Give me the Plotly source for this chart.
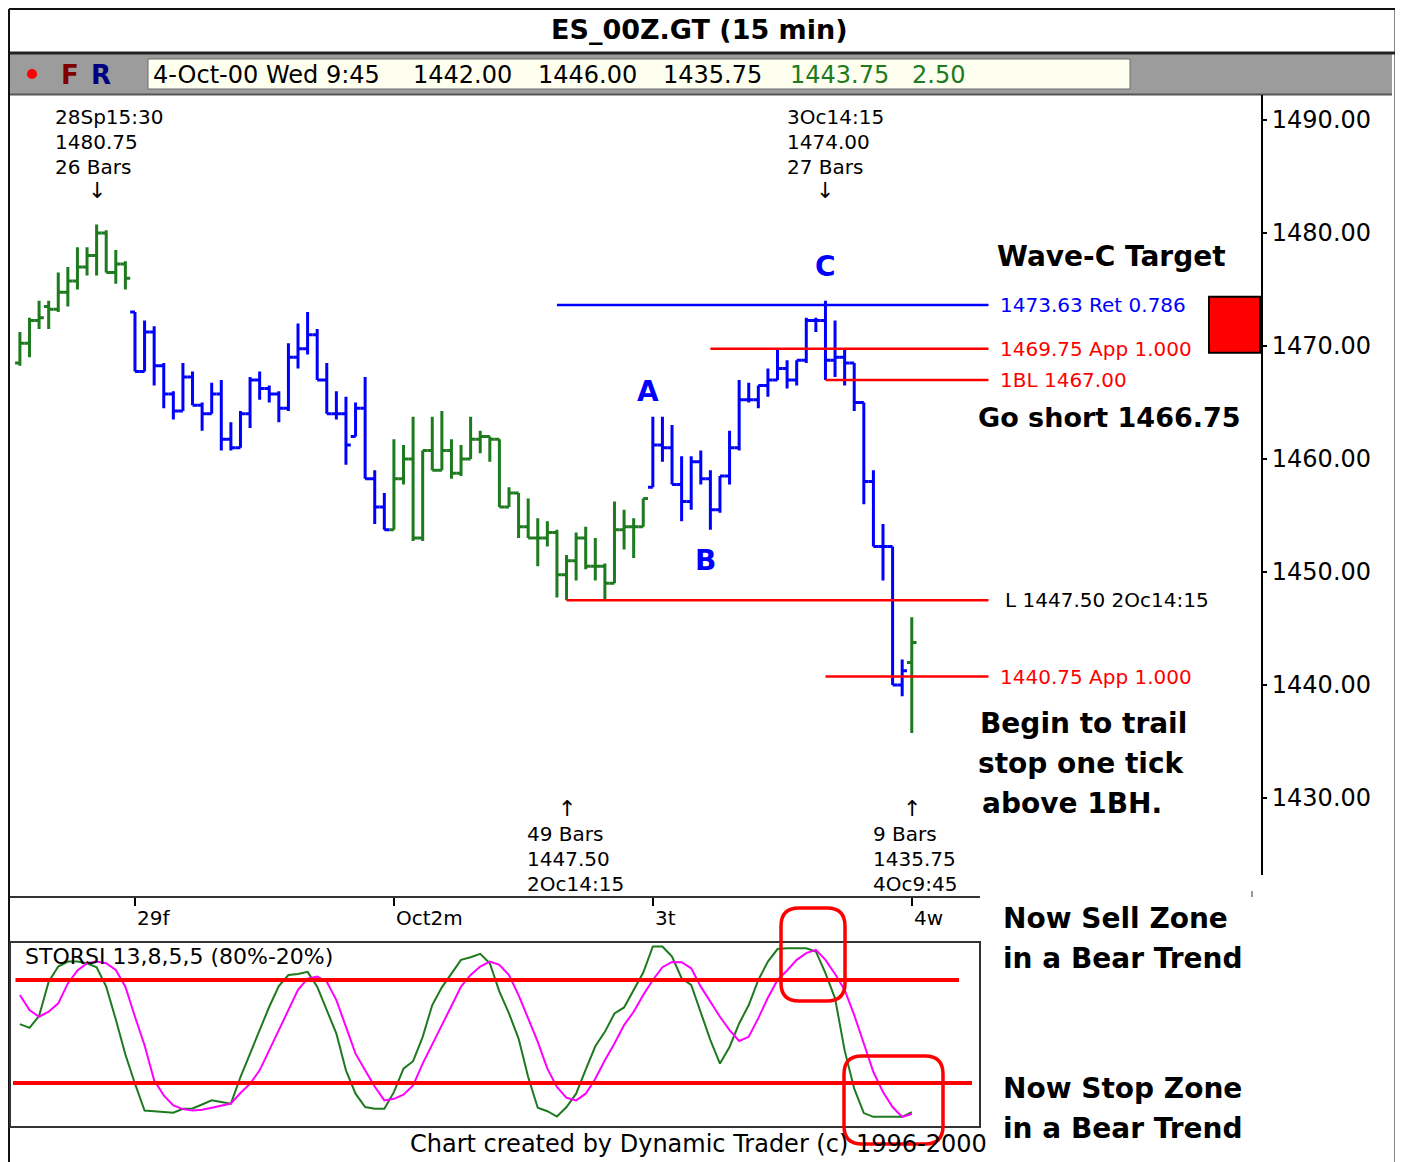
import plotly.graph_objects as go

W, H = 1403, 1162
OFF = 8                     # page body margin offset
FW, FH = W - OFF, H - OFF   # figure size
FONT = "DejaVu Sans"

# ---------------- data ----------------
session_labels = ["28Sp", "29f", "Oct2m", "3t", "4w"]
session_start = [0, 12, 39, 66, 93]          # first bar index of each session
session_color = ["#1e7a1e", "#0000ff", "#1e7a1e", "#0000ff", "#1e7a1e"]

opens = [1468.5, 1470.25, 1472.25, 1473.5, 1473.25, 1474.75, 1475.75, 1477.0, 1478.0, 1480.0, 1476.5, 1477.25,
         1473.0, 1467.75, 1471.25, 1468.25, 1465.75, 1464.25, 1467.25, 1464.75, 1464.0, 1465.75, 1461.75, 1461.0,
         1464.0, 1467.0, 1466.25, 1465.75, 1464.5, 1469.0, 1469.75, 1471.0, 1467.0, 1464.0, 1464.0, 1462.0,
         1464.5, 1458.25, 1455.75,
         1453.75, 1458.25, 1460.0, 1453.0, 1460.75, 1459.0, 1460.75, 1458.75, 1460.0, 1461.75, 1462.0, 1461.75,
         1455.75, 1457.0, 1454.0, 1453.0, 1453.0, 1453.5, 1449.75, 1451.0, 1453.0, 1450.5, 1450.5, 1449.0,
         1453.75, 1454.0, 1454.0,
         1457.5, 1461.25, 1461.0, 1457.75, 1456.25, 1459.75, 1458.25, 1455.5, 1458.5, 1461.0, 1465.25, 1465.25,
         1466.5, 1467.0, 1468.0, 1467.0, 1468.75, 1472.25, 1472.25, 1468.75, 1469.0, 1468.5, 1465.0, 1458.0,
         1452.25, 1452.25, 1440.0,
         1442.0]
highs = [1471.25, 1472.5, 1474.0, 1474.0, 1476.5, 1477.0, 1478.75, 1478.75, 1480.75, 1480.25, 1478.5, 1477.5,
         1473.0, 1472.25, 1471.75, 1468.5, 1466.0, 1468.5, 1467.75, 1465.0, 1466.75, 1467.0, 1463.25, 1464.25,
         1467.25, 1467.75, 1466.5, 1466.0, 1470.25, 1472.0, 1473.0, 1471.5, 1468.5, 1466.0, 1465.5, 1465.0,
         1467.25, 1459.0, 1457.0,
         1461.75, 1461.25, 1463.75, 1460.75, 1463.75, 1464.25, 1461.75, 1461.25, 1463.75, 1462.5, 1462.0, 1461.75,
         1457.5, 1457.0, 1456.5, 1454.75, 1454.5, 1453.75, 1451.5, 1453.5, 1454.0, 1453.0, 1450.75, 1456.25,
         1455.5, 1454.75, 1456.5,
         1463.75, 1463.75, 1463.0, 1460.25, 1460.25, 1460.75, 1459.0, 1458.5, 1462.5, 1467.0, 1466.75, 1466.5,
         1468.0, 1469.75, 1468.75, 1468.75, 1472.5, 1472.5, 1474.0, 1472.25, 1469.75, 1468.5, 1465.0, 1459.0,
         1454.25, 1452.25, 1442.25,
         1446.0]
lows = [1468.25, 1469.0, 1471.5, 1471.5, 1473.0, 1473.5, 1475.0, 1476.25, 1476.25, 1476.5, 1475.5, 1475.0,
        1467.75, 1467.75, 1466.5, 1464.5, 1463.5, 1464.25, 1464.75, 1462.5, 1464.0, 1460.75, 1460.75, 1461.0,
        1462.75, 1465.25, 1465.0, 1463.25, 1464.25, 1468.0, 1469.25, 1467.0, 1464.0, 1463.5, 1459.5, 1462.0,
        1458.25, 1454.25, 1453.75,
        1453.75, 1457.75, 1452.75, 1452.75, 1459.0, 1459.0, 1458.25, 1458.5, 1460.0, 1460.5, 1459.75, 1455.75,
        1455.75, 1453.0, 1453.0, 1450.5, 1452.25, 1447.75, 1447.5, 1449.25, 1450.25, 1449.25, 1447.5, 1449.0,
        1452.0, 1451.25, 1454.0,
        1457.5, 1459.75, 1457.75, 1454.5, 1455.5, 1457.75, 1453.75, 1455.25, 1457.75, 1460.75, 1465.0, 1464.5,
        1465.5, 1467.0, 1466.25, 1466.5, 1468.5, 1471.25, 1467.0, 1467.25, 1466.5, 1464.25, 1456.0, 1452.25,
        1449.25, 1440.0, 1439.0,
        1435.75]
closes = [1470.25, 1472.25, 1472.5, 1473.25, 1474.75, 1475.75, 1477.0, 1478.0, 1480.0, 1476.5, 1477.25, 1476.0,
          1467.75, 1471.25, 1468.25, 1465.75, 1464.25, 1467.25, 1464.75, 1464.0, 1465.75, 1461.75, 1461.0, 1464.0,
          1467.0, 1466.25, 1465.75, 1464.5, 1469.0, 1469.75, 1471.0, 1467.0, 1464.0, 1464.0, 1461.25, 1464.5,
          1458.25, 1455.75, 1453.75,
          1458.25, 1460.0, 1453.0, 1460.75, 1459.0, 1460.75, 1458.75, 1460.0, 1461.75, 1462.0, 1461.75, 1455.75,
          1457.0, 1454.0, 1453.0, 1453.0, 1453.5, 1449.75, 1451.0, 1453.0, 1450.5, 1450.5, 1449.0, 1453.75,
          1454.0, 1454.0, 1456.5,
          1461.25, 1461.0, 1457.75, 1456.25, 1459.75, 1458.25, 1455.5, 1458.5, 1461.0, 1465.25, 1465.25, 1466.5,
          1467.0, 1468.0, 1467.0, 1468.75, 1472.25, 1472.25, 1468.75, 1469.0, 1468.5, 1465.0, 1458.0, 1452.25,
          1452.25, 1440.0, 1441.25,
          1443.75]

storsi_fast = [54.3, 52.1, 59, 79, 87.8, 90.7, 90.7, 89.7, 87.4, 76.1, 57, 36.6, 19.6, 4, 3.6, 3, 2.7, 5, 5.2, 7.5,
               9.9, 8.9, 8, 23.5, 37.1, 51.8, 64.4, 76.5, 82.9, 83.5, 84.7, 76.1, 62.5, 48.8, 27.4, 13.8, 6, 5, 5, 14.7,
               28.4, 32.7, 46.9, 65.4, 75.7, 83.5, 91.7, 93.2, 95.2, 89.7, 73.2, 60.5, 45.9, 23.5, 5.6, 3.6, 0.5, 6, 13.8, 27.8,
               41.4, 49.8, 60.5, 64, 73.8, 84.3, 99.5, 99.5, 93.6, 81, 77.1, 60.5, 45, 31.3, 41, 54.7, 65.4, 80, 90.7, 98,
               98.5, 98.5, 98.5, 96.6, 84, 69.3, 39, 16.7, 2.5, 0.3, 0.3, 0, 0.3, 3]
storsi_slow = [71.2, 62.5, 58.6, 61.5, 66.4, 78, 85.5, 89.7, 90.7, 89.7, 85.8, 76.1, 58.6, 42, 21.6, 12.8, 7, 4.8, 4, 4.4,
               5.6, 6.8, 8.1, 14.2, 19.6, 27.4, 39.1, 51.8, 63.4, 74.2, 80.8, 82, 79, 68.3, 52.7, 37.1, 27.4, 18, 9.9, 10.8,
               13.2, 18.6, 31.3, 43, 53.7, 64.8, 76.1, 82.9, 87.8, 90.7, 88.8, 82.9, 71.2, 57.6, 44, 28.4, 17.7, 11.4, 9.9, 13.8,
               22.5, 33.2, 43, 53.7, 61.5, 71.2, 80, 87.4, 90.5, 90.3, 86.8, 76.1, 67.3, 58.6, 50.8, 44.5, 46.9, 57.8, 69.7, 80,
               85.5, 91.7, 95.6, 97.5, 91.7, 83.5, 74.2, 59.5, 43, 26.4, 14.7, 6, 0.3, 2]
storsi_levels = [80, 20]

price_ticks = [1430, 1440, 1450, 1460, 1470, 1480, 1490]

level_prices = [1473.63, 1469.75, 1467.00, 1447.50, 1440.75]
level_labels = ["1473.63 Ret 0.786", "1469.75 App 1.000", "1BL 1467.00", "L 1447.50 2Oc14:15", "1440.75 App 1.000"]
level_line_colors = ["#0000ff", "#ff0000", "#ff0000", "#ff0000", "#ff0000"]
level_text_colors = ["#0000ff", "#ff0000", "#ff0000", "#000000", "#ff0000"]
level_start_bar = [56, 72, 84, 57, 84]
level_end_bar = 101

swing_bars = [8, 84, 57, 93]
swing_text = [["28Sp15:30", "1480.75", "26 Bars"], ["3Oc14:15", "1474.00", "27 Bars"],
              ["49 Bars", "1447.50", "2Oc14:15"], ["9 Bars", "1435.75", "4Oc9:45"]]
swing_is_high = [True, True, False, False]

wave_labels = ["A", "B", "C"]
wave_bars = [65.5, 71.5, 84]
wave_prices = [1466.0, 1451.0, 1477.0]

target_zone = [1469.4, 1474.35]

status_fields = ["4-Oct-00 Wed 9:45", "1442.00", "1446.00", "1435.75", "1443.75", "2.50"]

# ---------------- geometry (page pixels) ----------------
BAR0_PX, BAR_PX = 19.9, 9.59
def X(px): return (px - OFF) / FW
def Y(py): return 1 - (py - OFF) / FH
def bar_of_px(px): return (px - BAR0_PX) / BAR_PX

fig = go.Figure()

# price bars, coloured by session
n = len(opens)
for colour in ["#1e7a1e", "#0000ff"]:
    idx = []
    for s, st in enumerate(session_start):
        en = session_start[s + 1] if s + 1 < len(session_start) else n
        if session_color[s] == colour:
            idx += list(range(st, en))
    fig.add_trace(go.Ohlc(
        x=idx, open=[opens[i] for i in idx], high=[highs[i] for i in idx],
        low=[lows[i] for i in idx], close=[closes[i] for i in idx],
        increasing=dict(line=dict(color=colour, width=3)),
        decreasing=dict(line=dict(color=colour, width=3)),
        line=dict(width=3), tickwidth=0.5, hoverinfo="skip", xaxis="x", yaxis="y"))

# oscillator
bars = list(range(n))
fig.add_trace(go.Scatter(x=bars, y=storsi_fast, mode="lines", line=dict(color="#1e7a1e", width=2),
                         xaxis="x2", yaxis="y2", hoverinfo="skip"))
fig.add_trace(go.Scatter(x=bars, y=storsi_slow, mode="lines", line=dict(color="#ff00ff", width=2),
                         xaxis="x2", yaxis="y2", hoverinfo="skip"))

fig.update_layout(
    width=FW, height=FH, margin=dict(l=0, r=0, t=0, b=0),
    paper_bgcolor="white", plot_bgcolor="white", showlegend=False,
    xaxis=dict(domain=[X(10), X(1262)], range=[bar_of_px(10), bar_of_px(1262)],
               showgrid=False, zeroline=False, showline=False, rangeslider=dict(visible=False),
               tickvals=session_start[1:], ticks="outside", ticklen=8, tickwidth=2, tickcolor="black",
               showticklabels=False, fixedrange=True),
    yaxis=dict(domain=[Y(897), Y(95)], range=[1490 - (897 - 120) / 11.3, 1490 + (120 - 95) / 11.3],
               side="right", tickvals=price_ticks, tickformat=".2f", ticks="outside", ticklen=4,
               tickwidth=2, tickcolor="black", showgrid=False, zeroline=False, showline=False,
               tickfont=dict(family=FONT, size=24, color="black")),
    xaxis2=dict(domain=[X(10), X(980)], range=[bar_of_px(10), bar_of_px(980)], visible=False),
    yaxis2=dict(domain=[Y(1127), Y(942)], range=[-5.6, 102.1], visible=False, anchor="x2"),
)

shapes = []
def line_px(x0, y0, x1, y1, color="black", width=2):
    shapes.append(dict(type="line", xref="paper", yref="paper", x0=X(x0), y0=Y(y0), x1=X(x1), y1=Y(y1),
                       line=dict(color=color, width=width)))
def rect_px(x0, y0, x1, y1, fill=None, color="black", width=2, layer="above"):
    shapes.append(dict(type="rect", xref="paper", yref="paper", x0=X(x0), y0=Y(y0), x1=X(x1), y1=Y(y1),
                       fillcolor=fill if fill else "rgba(0,0,0,0)", layer=layer,
                       line=dict(color=color, width=width)))

# frame, title band and status bar
rect_px(10, 54, 1392, 94, fill="#9c9c9c", color="#9c9c9c", width=0, layer="below")
rect_px(148, 59, 1130, 89, fill="#fffff0", color="#6a6a6a", width=1, layer="below")
line_px(9, 53, 1396, 53, "#222222", 3)
line_px(10, 94.5, 1392, 94.5, "#555555", 2)
line_px(9, 9, 1396, 9, "#111111", 2)
line_px(9, 9, 9, 1162, "#111111", 2)
line_px(1395.5, 9, 1395.5, 1162, "#111111", 2)
shapes.append(dict(type="circle", xref="paper", yref="paper", x0=X(27), y0=Y(69), x1=X(37), y1=Y(79),
                   fillcolor="#ff0000", line=dict(color="#ff0000", width=0)))
# price axis line, time axis line, oscillator box
line_px(1262, 95, 1262, 875, "black", 2)
line_px(10, 897, 980, 897, "#333333", 2)
line_px(1252, 891, 1252, 897, "#333333", 1)
rect_px(10, 942, 980, 1127, color="#333333", width=2)

# price level lines
for p, c, s in zip(level_prices, level_line_colors, level_start_bar):
    shapes.append(dict(type="line", xref="x", yref="y", x0=s, x1=level_end_bar, y0=p, y1=p,
                       line=dict(color=c, width=2.5)))
# target zone square
shapes.append(dict(type="rect", xref="x", yref="y", x0=bar_of_px(1209), x1=bar_of_px(1260),
                   y0=target_zone[0], y1=target_zone[1], fillcolor="#ff0000", line=dict(color="black", width=2)))
# oscillator 80 / 20 lines
for lv, a, b in zip(storsi_levels, [15.5, 13], [959, 972]):
    shapes.append(dict(type="line", xref="x2", yref="y2", x0=bar_of_px(a), x1=bar_of_px(b), y0=lv, y1=lv,
                       line=dict(color="#ff0000", width=4)))

def rrect(x0, y0, x1, y1, r):
    return (f"M {X(x0+r)},{Y(y0)} L {X(x1-r)},{Y(y0)} Q {X(x1)},{Y(y0)} {X(x1)},{Y(y0+r)} "
            f"L {X(x1)},{Y(y1-r)} Q {X(x1)},{Y(y1)} {X(x1-r)},{Y(y1)} L {X(x0+r)},{Y(y1)} "
            f"Q {X(x0)},{Y(y1)} {X(x0)},{Y(y1-r)} L {X(x0)},{Y(y0+r)} Q {X(x0)},{Y(y0)} {X(x0+r)},{Y(y0)} Z")
for box in [(781, 908, 845, 1001), (844, 1056, 943, 1144)]:
    shapes.append(dict(type="path", xref="paper", yref="paper", path=rrect(*box, 18),
                       line=dict(color="#ff0000", width=3.5)))

fig.update_layout(shapes=shapes)

ann = []
def T(x, y, s, size=20, color="black", bold=False, xanchor="left", xref="paper", yref="paper"):
    ann.append(dict(x=X(x) if xref == "paper" else x, y=Y(y) if yref == "paper" else y,
                    xref=xref, yref=yref, text=f"<b>{s}</b>" if bold else s, showarrow=False,
                    xanchor=xanchor, yanchor="middle", borderpad=0,
                    font=dict(family=FONT, size=size, color=color)))

# title & status bar
T(699, 30, "ES_00Z.GT (15 min)", 27, bold=True, xanchor="center")
T(70, 75, "F", 26, "#800000", True, "center")
T(101, 75, "R", 26, "#000080", True, "center")
for s, x0, c in zip(status_fields, [152, 412, 537, 662, 789, 911],
                    ["black", "black", "black", "black", "#1e7a1e", "#1e7a1e"]):
    T(x0, 75, s, 24, c)

# price level labels
for p, lab, c, x0 in zip(level_prices, level_labels, level_text_colors, [999, 999, 999, 1004, 999]):
    T(x0, p, lab, 20, c, yref="y")

# swing annotations
for b, lines, hi in zip(swing_bars, swing_text, swing_is_high):
    left = BAR0_PX + BAR_PX * b - (43 if b == 8 else 39 if b == 84 else 41 if b == 57 else 40)
    if hi:
        for k, s in enumerate(lines):
            T(left, 117 + 25 * k, s, 20)
        T(b, 190, "↓", 22, xanchor="center", xref="x")
    else:
        for k, s in enumerate(lines):
            T(left, 834 + 25 * k, s, 20)
        T(b, 808, "↑", 22, xanchor="center", xref="x")

# wave letters
for lab, b, p in zip(wave_labels, wave_bars, wave_prices):
    T(b, p, lab, 28, "#0000ff", True, "center", xref="x", yref="y")

# commentary
T(996, 257, "Wave-C Target", 28, bold=True)
T(977, 417, "Go short 1466.75", 27, bold=True)
T(979, 723, "Begin to trail", 28, bold=True)
T(977, 763, "stop one tick", 28, bold=True)
T(981, 803, "above 1BH.", 28, bold=True)
T(1002, 918, "Now Sell Zone", 28, bold=True)
T(1002, 958, "in a Bear Trend", 28, bold=True)
T(1002, 1088, "Now Stop Zone", 28, bold=True)
T(1002, 1128, "in a Bear Trend", 28, bold=True)

# time axis labels
for lab, b in zip(session_labels[1:], session_start[1:]):
    ann.append(dict(x=b, y=Y(918), xref="x", yref="paper", text=lab, showarrow=False, xanchor="left",
                    yanchor="middle", xshift=1, borderpad=0, font=dict(family=FONT, size=20, color="black")))

T(24, 957, "STORSI 13,8,5,5 (80%-20%)", 22)
T(409, 1144, "Chart created by Dynamic Trader (c) 1996-2000", 24)

fig.update_layout(annotations=ann)
fig.write_html("out.html")
